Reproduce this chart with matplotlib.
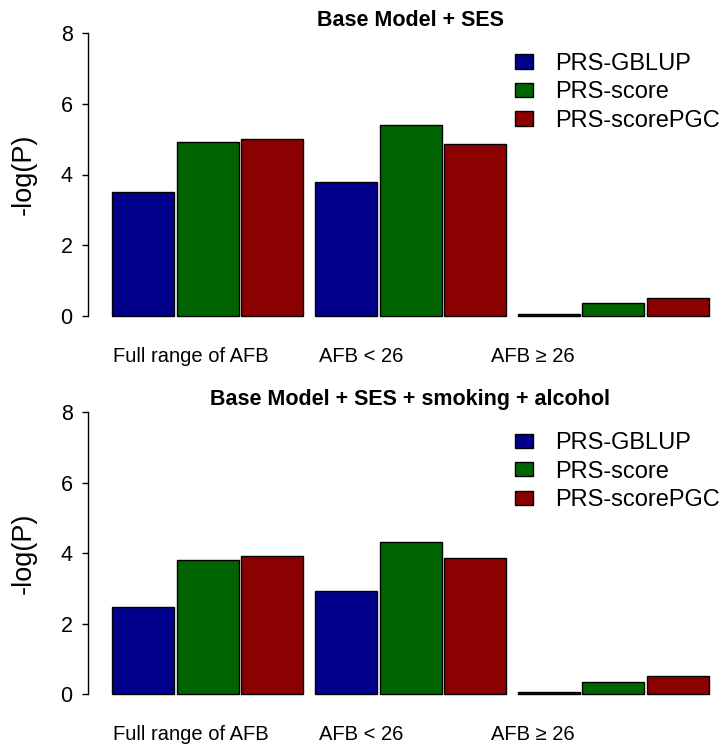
import matplotlib
matplotlib.use("Agg")
import matplotlib.pyplot as plt
from matplotlib.patches import Rectangle

plt.rcParams['font.family'] = ['Liberation Sans', 'DejaVu Sans']

# ---------------- data ----------------
categories = ["Full range of AFB", "AFB < 26", "AFB \u2265 26"]
series = ["PRS-GBLUP", "PRS-score", "PRS-scorePGC"]
colors = ["#00008B", "#006400", "#8B0000"]

# -log(P) values: rows = series, columns = categories
ses_gblup = [3.51, 3.78, 0.07]
ses_score = [4.92, 5.40, 0.36]
ses_pgc = [4.99, 4.85, 0.50]

full_gblup = [2.49, 2.94, 0.07]
full_score = [3.81, 4.33, 0.36]
full_pgc = [3.93, 3.88, 0.53]

titles = ["Base Model + SES", "Base Model + SES + smoking + alcohol"]
yticks = [0, 2, 4, 6, 8]
ylabel = "-log(P)"

# ---------------- layout ----------------
W, H = 723, 746
fig = plt.figure(figsize=(W / 100, H / 100), dpi=100)

GROUP_PITCH = 3.27
BAR_STEP = 1.04
LABEL_X = [1.26, 4.02, 6.79]
X0_PX, X1_PX = 88, 723
BAR0_PX, UNIT_PX = 112.3, 62.0


def fx(px):
    return px / W


def fy(py):
    return 1 - py / H


def draw_panel(y8, y0, vals, title):
    unit = (y0 - y8) / 8.0
    ext = 0.32
    ytop = y8 - ext * unit
    ybot = y0 + ext * unit
    ax = fig.add_axes([fx(X0_PX), fy(ybot), fx(X1_PX - X0_PX), (ybot - ytop) / H])
    ax.set_xlim(-(BAR0_PX - X0_PX) / UNIT_PX, (X1_PX - BAR0_PX) / UNIT_PX)
    ax.set_ylim(-ext, 8 + ext)
    for j, (v, c) in enumerate(zip(vals, colors)):
        xs = [g * GROUP_PITCH + j * BAR_STEP for g in range(len(categories))]
        ax.bar(xs, v, width=1.0, align='edge', color=c, edgecolor='black',
               linewidth=1.0, zorder=2)
    for s in ['top', 'right', 'bottom']:
        ax.spines[s].set_visible(False)
    ax.spines['left'].set_bounds(0, 8)
    ax.spines['left'].set_linewidth(1.0)
    ax.set_yticks(yticks)
    ax.set_yticklabels([str(t) for t in yticks], fontsize=15.5)
    ax.tick_params(axis='y', length=4, width=1.0, pad=7)
    ax.set_xticks(LABEL_X)
    ax.set_xticklabels(categories, fontsize=14.5)
    ax.tick_params(axis='x', length=0, pad=14)
    ax.patch.set_alpha(0)

    # y label
    fig.text(fx(24), fy((y8 + y0) / 2), ylabel, rotation=90, fontsize=19.5,
             ha='center', va='center')
    # title
    tsize = 15.5
    cap = 0.716 * tsize * 100 / 72
    fig.text(fx(410.5), fy(y8 - 15 + cap / 2), title, fontsize=tsize,
             fontweight='bold', ha='center', va='baseline')
    # legend
    lsize = 17
    lcap = 0.716 * lsize * 100 / 72
    for k, (name, c) in enumerate(zip(series, colors)):
        cy = y8 + 28.5 + k * 28.5
        fig.patches.append(Rectangle((fx(515), fy(cy + 7)), 18 / W, 14 / H,
                                     transform=fig.transFigure,
                                     facecolor=c, edgecolor='black', linewidth=1.0))
        fig.text(fx(555), fy(cy + lcap / 2), name, fontsize=lsize,
                 ha='left', va='baseline')
    return ax


draw_panel(33.0, 316.0, [ses_gblup, ses_score, ses_pgc], titles[0])
draw_panel(412.3, 694.3, [full_gblup, full_score, full_pgc], titles[1])

fig.savefig("out.png", dpi=100, facecolor='white')
